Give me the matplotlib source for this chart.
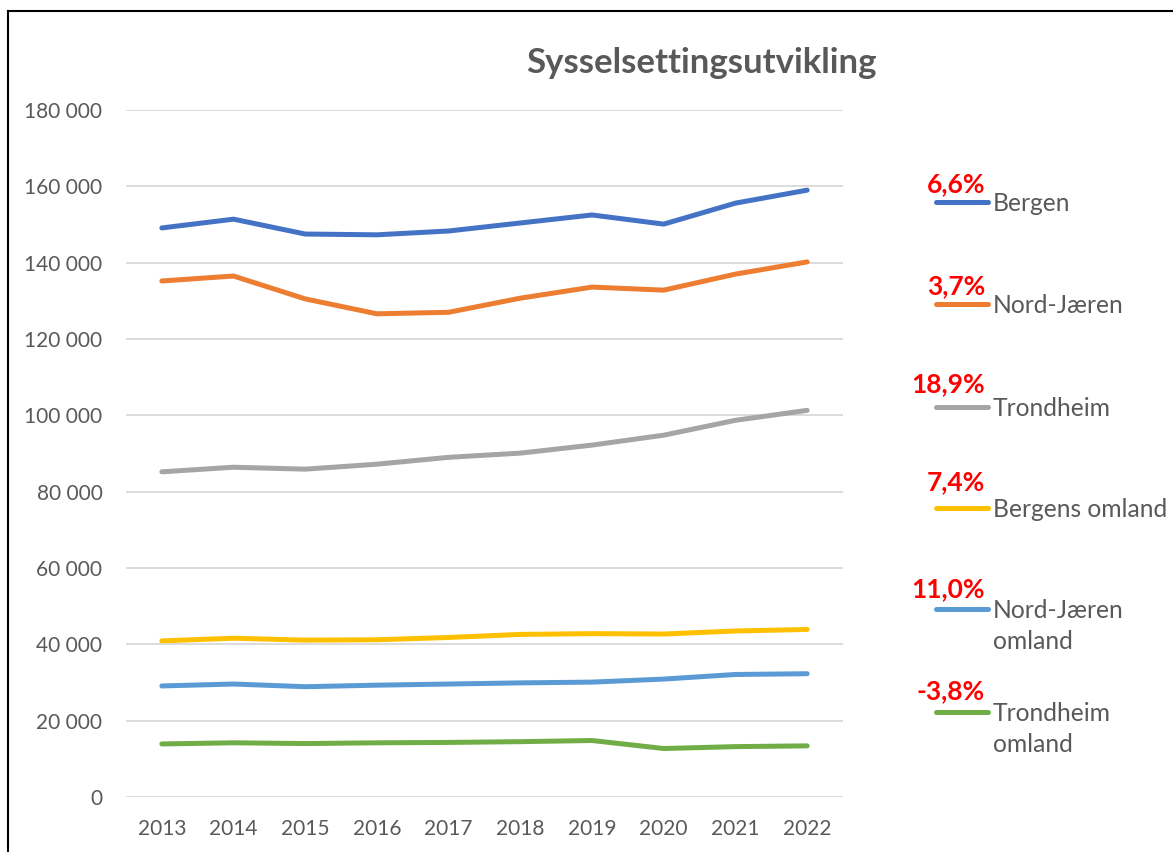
import matplotlib
matplotlib.use("Agg")
import matplotlib.pyplot as plt
from matplotlib.lines import Line2D
from matplotlib.ticker import FuncFormatter

years = ["2013", "2014", "2015", "2016", "2017", "2018", "2019", "2020", "2021", "2022"]

bergen = [149100, 151400, 147500, 147300, 148300, 150400, 152500, 150100, 155600, 159000]
nord_jaeren = [135200, 136500, 130500, 126600, 127000, 130700, 133600, 132800, 137000, 140200]
trondheim = [85200, 86400, 85900, 87200, 89000, 90100, 92200, 94800, 98700, 101300]
bergens_omland = [40900, 41600, 41100, 41200, 41800, 42600, 42800, 42700, 43500, 43900]
nord_jaeren_omland = [29100, 29600, 28900, 29300, 29600, 29900, 30100, 30900, 32100, 32300]
trondheim_omland = [13900, 14200, 14000, 14200, 14300, 14500, 14800, 12700, 13200, 13400]

series = [bergen, nord_jaeren, trondheim, bergens_omland, nord_jaeren_omland, trondheim_omland]
labels = ["Bergen", "Nord-Jæren", "Trondheim", "Bergens omland",
          "Nord-Jæren\nomland", "Trondheim\nomland"]
growth = ["6,6%", "3,7%", "18,9%", "7,4%", "11,0%", "-3,8%"]
colors = ["#4472C4", "#ED7D31", "#A5A5A5", "#FFC000", "#5B9BD5", "#70AD47"]

plt.rcParams["font.family"] = ["Lato", "DejaVu Sans"]
grey = "#595959"

fig = plt.figure(figsize=(11.73, 8.52), dpi=100)
ax = fig.add_axes([126 / 1173, 1 - 797 / 852, (843 - 126) / 1173, (797 - 110) / 852])

x = range(len(years))
for vals, c in zip(series, colors):
    ax.plot(x, vals, color=c, lw=3.6, solid_capstyle="round", solid_joinstyle="round", zorder=3)

ax.set_xlim(-0.5, len(years) - 0.5)
ax.set_ylim(0, 180000)
ax.set_yticks(range(0, 180001, 20000))
ax.yaxis.set_major_formatter(FuncFormatter(lambda v, _: f"{int(v):,}".replace(",", " ")))
ax.set_xticks(list(x))
ax.set_xticklabels(years)
ax.grid(axis="y", color="#d9d9d9", lw=1.3)
ax.set_axisbelow(True)
for s in ax.spines.values():
    s.set_visible(False)
ax.tick_params(length=0, labelsize=15, colors=grey, pad=17)
ax.tick_params(axis="x", pad=16)

fig.text(701 / 1173, 1 - 63 / 852, "Sysselsettingsutvikling", ha="center", va="center",
         fontsize=25, fontweight="bold", color=grey)

# legend built by hand, one row per series
legend_y = [202, 304, 407, 508, 609, 712]
pct_y = [184, 286, 384, 482, 589, 691]
for lbl, pct, c, ly, py in zip(labels, growth, colors, legend_y, pct_y):
    fig.add_artist(Line2D([936 / 1173, 988 / 1173], [1 - ly / 852] * 2, color=c, lw=3.6,
                          solid_capstyle="round"))
    fig.text(993 / 1173, 1 - (ly - 10) / 852, lbl, ha="left", va="top", fontsize=17.7,
             color=grey, linespacing=1.42)
    fig.text(985 / 1173, 1 - py / 852, pct, ha="right", va="center", fontsize=19,
             fontweight="bold", color="#FF0000")

# frame on left and top edges
fig.add_artist(Line2D([8 / 1173, 8 / 1173], [0, 1 - 11 / 852], color="black", lw=1.5))
fig.add_artist(Line2D([8 / 1173, 1], [1 - 11 / 852] * 2, color="black", lw=1.5))

fig.savefig("out.png", dpi=100)
